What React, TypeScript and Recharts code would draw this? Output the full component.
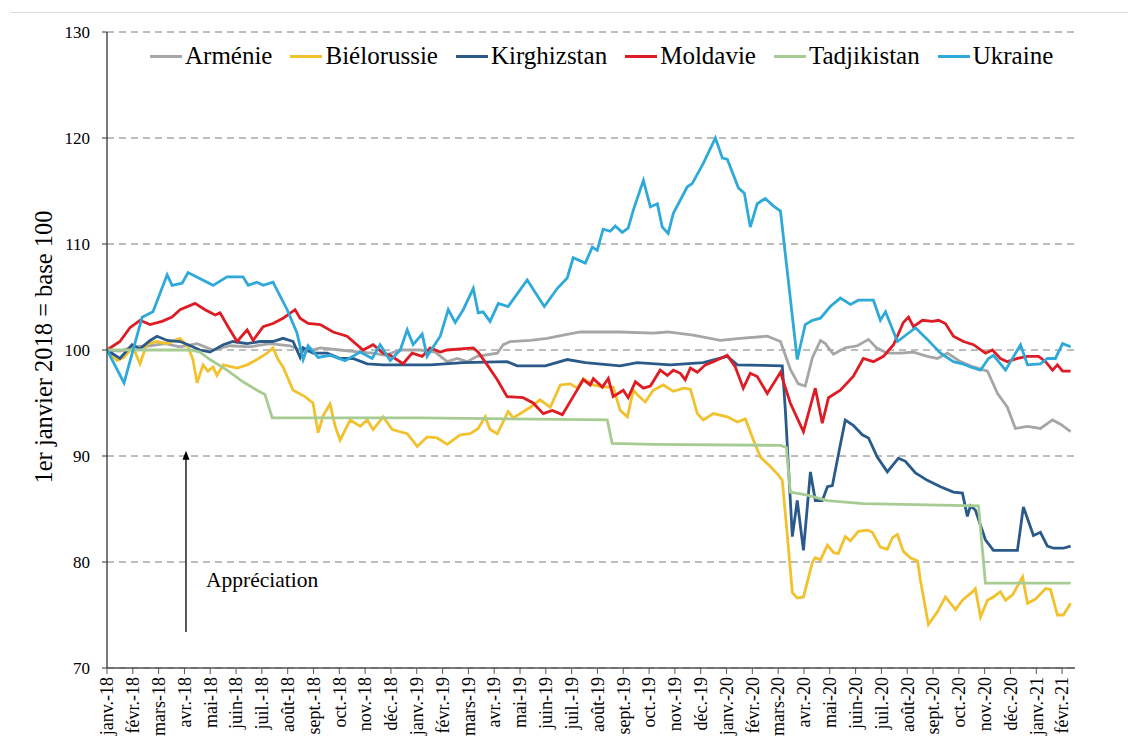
import React from "react";
import {
  LineChart,
  Line,
  XAxis,
  YAxis,
  CartesianGrid,
  ReferenceLine,
  ReferenceDot,
} from "recharts";

const SERIF = '"Liberation Serif", "Times New Roman", serif';

// month labels, one tick per month (t = 0 is janv.-18)
const MONTHS = [
  "janv.-18", "févr.-18", "mars-18", "avr.-18", "mai-18", "juin-18", "juil.-18", "août-18",
  "sept.-18", "oct.-18", "nov.-18", "déc.-18",
  "janv.-19", "févr.-19", "mars-19", "avr.-19", "mai-19", "juin-19", "juil.-19", "août-19",
  "sept.-19", "oct.-19", "nov.-19", "déc.-19",
  "janv.-20", "févr.-20", "mars-20", "avr.-20", "mai-20", "juin-20", "juil.-20", "août-20",
  "sept.-20", "oct.-20", "nov.-20", "déc.-20",
  "janv.-21", "févr.-21",
];
const Y_TICKS = [70, 80, 90, 100, 110, 120, 130];

// [month position, index value]
const armenie: [number, number][] = [
  [0, 100], [0.5, 99.9], [1, 100.3], [1.67, 100.4], [2.25, 100.6], [2.83, 100.3], [3.49, 100.6],
  [4.11, 100], [4.77, 100.4], [5.54, 100.3], [6.32, 100.6], [7.09, 100.4], [7.67, 99.8], [8.26, 100.2],
  [9.03, 100], [9.81, 99.8], [10.31, 99.7], [10.78, 99.5], [11.36, 100], [12.13, 100], [12.71, 99.8],
  [13.18, 98.9], [13.57, 99.2], [13.95, 98.9], [14.34, 99.4], [15.12, 99.7], [15.35, 100.5], [15.62, 100.8],
  [16.4, 100.9], [17.05, 101.1], [17.67, 101.4], [18.33, 101.7], [19.88, 101.7], [21.16, 101.6], [21.71, 101.7],
  [22.71, 101.4], [23.76, 100.9], [24.53, 101.1], [25.58, 101.3], [26.09, 100.8], [26.47, 98.2], [26.78, 96.8],
  [27.05, 96.6], [27.33, 99.3], [27.64, 100.9], [27.83, 100.6], [28.14, 99.6], [28.6, 100.2], [29.07, 100.4],
  [29.5, 101], [29.81, 100.2], [30.23, 99.7], [30.74, 99.7], [31.24, 99.8], [31.78, 99.4], [32.17, 99.2],
  [32.56, 99.7], [33.06, 98.9], [33.57, 98.4], [34.11, 98], [34.5, 95.9], [34.88, 94.6], [35.19, 92.6],
  [35.66, 92.8], [36.16, 92.6], [36.63, 93.4], [36.94, 93], [37.33, 92.3],
];

const bielorussie: [number, number][] = [
  [0, 100], [0.39, 99], [0.66, 99.3], [1, 100.3], [1.28, 98.7], [1.55, 100.6], [1.94, 100.8], [2.33, 100.6],
  [2.83, 101.1], [3.14, 100.3], [3.33, 99.1], [3.49, 96.9], [3.72, 98.6], [3.91, 98], [4.11, 98.4], [4.26, 97.6],
  [4.5, 98.6], [5.04, 98.3], [5.43, 98.6], [5.81, 99.1], [6.2, 99.7], [6.43, 100.2], [6.63, 99.1], [6.82, 98.4],
  [7.21, 96.2], [7.67, 95.6], [7.98, 95], [8.18, 92.2], [8.37, 93.8], [8.64, 94.9], [8.84, 92.8], [9.03, 91.5],
  [9.42, 93.4], [9.81, 92.8], [10.08, 93.4], [10.31, 92.5], [10.7, 93.7], [11.05, 92.5], [11.63, 92.1],
  [12.02, 90.9], [12.4, 91.8], [12.79, 91.7], [13.18, 91.1], [13.68, 92], [14.07, 92.1], [14.38, 92.6],
  [14.65, 93.7], [14.84, 92.5], [15.12, 92.1], [15.54, 94.2], [15.74, 93.6], [16.4, 94.6], [16.78, 95.3],
  [17.17, 94.6], [17.56, 96.7], [17.95, 96.8], [18.22, 96.4], [18.45, 97.3], [18.84, 96.7], [19.22, 96.5],
  [19.61, 96.5], [19.88, 94.3], [20.16, 93.7], [20.39, 96.2], [20.58, 95.7], [20.85, 95.1], [21.16, 96.2],
  [21.55, 96.7], [21.94, 96.1], [22.33, 96.4], [22.6, 96.3], [22.87, 94], [23.1, 93.4], [23.49, 94],
  [24.03, 93.7], [24.42, 93.2], [24.73, 93.5], [25.04, 91.5], [25.31, 89.9], [25.7, 89], [26.01, 88.2],
  [26.16, 87.7], [26.36, 82.4], [26.55, 77.1], [26.74, 76.6], [26.98, 76.7], [27.33, 80], [27.44, 80.4],
  [27.64, 80.2], [27.91, 81.6], [28.14, 80.9], [28.33, 80.8], [28.6, 82.4], [28.8, 82], [29.11, 82.9],
  [29.46, 83], [29.65, 82.8], [29.96, 81.4], [30.23, 81.2], [30.43, 82.3], [30.62, 82.6], [30.85, 81],
  [31.12, 80.4], [31.4, 80.1], [31.51, 78.3], [31.82, 74.1], [32.17, 75.3], [32.48, 76.7], [32.87, 75.5],
  [33.14, 76.4], [33.53, 77.2], [33.64, 77.5], [33.84, 74.8], [34.11, 76.4], [34.34, 76.7], [34.61, 77.2],
  [34.81, 76.4], [35.08, 76.9], [35.47, 78.6], [35.66, 76.1], [35.97, 76.5], [36.36, 77.5], [36.55, 77.4],
  [36.82, 75], [37.05, 75], [37.33, 76.1],
];

const kirghizstan: [number, number][] = [
  [0, 100], [0.5, 99.2], [0.97, 100.5], [1.28, 100.1], [1.67, 100.9], [1.94, 101.3], [2.33, 100.9],
  [2.83, 100.8], [3.14, 100.5], [3.6, 100], [3.99, 99.8], [4.5, 100.5], [4.88, 100.8], [5.43, 100.6],
  [5.93, 100.8], [6.43, 100.8], [6.82, 101.1], [7.21, 100.8], [7.48, 99.3], [7.6, 100.2], [7.98, 99.7],
  [8.53, 99.7], [9.03, 99.2], [9.53, 99.2], [10.08, 98.7], [10.7, 98.6], [12.52, 98.6], [13.8, 98.8],
  [15.5, 98.9], [15.89, 98.5], [16.98, 98.5], [17.83, 99.1], [18.53, 98.8], [19.88, 98.5], [20.54, 98.8],
  [21.82, 98.6], [23.1, 98.8], [24.03, 99.4], [24.42, 98.6], [26.16, 98.5], [26.28, 94.3], [26.55, 82.4],
  [26.74, 85.8], [26.98, 81.1], [27.25, 88.5], [27.44, 85.8], [27.71, 85.8], [27.91, 87.1], [28.1, 87.2],
  [28.33, 90.1], [28.6, 93.4], [28.91, 92.9], [29.26, 92], [29.5, 91.7], [29.84, 89.9], [30.23, 88.5],
  [30.66, 89.8], [30.93, 89.5], [31.32, 88.4], [31.78, 87.7], [32.29, 87.1], [32.79, 86.6], [33.14, 86.5],
  [33.33, 84.3], [33.45, 85.3], [33.64, 84.9], [34.03, 82.1], [34.34, 81.1], [35.27, 81.1], [35.5, 85.2],
  [35.89, 82.5], [36.16, 82.8], [36.43, 81.5], [36.67, 81.3], [37.05, 81.3], [37.33, 81.5],
];

const moldavie: [number, number][] = [
  [0, 100], [0.5, 100.8], [0.89, 102.1], [1.28, 102.8], [1.67, 102.4], [2.13, 102.7], [2.52, 103.1],
  [2.83, 103.8], [3.41, 104.4], [3.8, 103.8], [4.19, 103.3], [4.38, 103.5], [4.69, 102.2], [5.04, 100.8],
  [5.43, 101.9], [5.66, 100.9], [6.05, 102.2], [6.43, 102.5], [6.82, 103], [7.29, 103.8], [7.48, 103],
  [7.79, 102.5], [8.26, 102.4], [8.76, 101.7], [9.3, 101.3], [9.92, 100], [10.31, 100.5], [10.7, 99.7],
  [10.97, 99.5], [11.47, 98.7], [11.82, 99.7], [12.21, 99.4], [12.52, 100.2], [12.91, 99.8], [13.18, 100],
  [14.19, 100.2], [14.38, 99.8], [14.73, 98.6], [15.12, 97.2], [15.5, 95.6], [16.12, 95.5], [16.51, 95],
  [16.9, 94], [17.25, 94.3], [17.64, 93.9], [18.06, 95.6], [18.45, 97.2], [18.72, 96.7], [18.84, 97.3],
  [19.19, 96.5], [19.42, 97.3], [19.61, 95.6], [20, 96.2], [20.19, 95.5], [20.47, 97], [20.78, 96.4],
  [21.05, 96.6], [21.43, 98.1], [21.71, 97.6], [21.94, 98.1], [22.21, 97.8], [22.4, 97.2], [22.6, 98.3],
  [22.87, 97.9], [23.18, 98.6], [23.49, 98.9], [24.03, 99.5], [24.34, 98.4], [24.65, 96.4], [24.92, 97.8],
  [25.19, 97.5], [25.58, 95.9], [26.09, 97.9], [26.47, 95], [26.98, 92.3], [27.44, 96.4], [27.71, 93.1],
  [27.95, 95.5], [28.41, 96.2], [28.91, 97.5], [29.3, 99.2], [29.69, 98.9], [30.08, 99.4], [30.47, 100.5],
  [30.85, 102.6], [31.05, 103.1], [31.24, 102.2], [31.59, 102.8], [31.98, 102.7], [32.21, 102.8],
  [32.48, 102.5], [32.79, 101.3], [33.18, 100.8], [33.57, 100.5], [34.03, 99.7], [34.3, 100], [34.61, 99.2],
  [34.88, 98.9], [35.27, 99.2], [35.66, 99.4], [36.09, 99.4], [36.36, 98.9], [36.63, 98.1], [36.82, 98.6],
  [37.02, 98], [37.33, 98],
];

const tadjikistan: [number, number][] = [
  [0, 100], [3.22, 100], [3.6, 99.8], [3.99, 99.1], [4.65, 98.1], [5.27, 97], [5.81, 96.2], [6.12, 95.8],
  [6.4, 93.6], [12.13, 93.6], [19.38, 93.4], [19.57, 91.2], [21.16, 91.1], [26.09, 91], [26.32, 90.8],
  [26.47, 86.6], [27.13, 86.3], [27.91, 85.8], [29.3, 85.5], [33.76, 85.3], [34.03, 78], [37.33, 78],
];

const ukraine: [number, number][] = [
  [0, 100], [0.66, 96.9], [1.36, 103.1], [1.78, 103.6], [2.33, 107.1], [2.52, 106.1], [2.91, 106.3],
  [3.14, 107.3], [4.11, 106.1], [4.65, 106.9], [5.27, 106.9], [5.47, 106.1], [5.81, 106.4], [6.05, 106.1],
  [6.43, 106.4], [6.98, 103.8], [7.36, 101.6], [7.6, 99.1], [7.79, 100.4], [8.18, 99.3], [8.64, 99.5],
  [9.22, 99], [9.81, 99.8], [10.27, 99.2], [10.58, 100.5], [10.97, 99], [11.36, 100], [11.63, 101.9],
  [11.86, 100.5], [12.21, 101.5], [12.4, 99.4], [12.91, 101.3], [13.22, 103.8], [13.49, 102.6],
  [13.8, 103.8], [14.19, 105.8], [14.38, 103.5], [14.57, 103.6], [14.84, 102.7], [15.16, 104.4],
  [15.54, 104.1], [16.28, 106.6], [16.94, 104.1], [17.44, 105.8], [17.83, 106.8], [18.06, 108.7],
  [18.53, 108.2], [18.8, 109.7], [18.99, 109.4], [19.22, 111.4], [19.5, 111.2], [19.69, 111.7],
  [19.96, 111.1], [20.19, 111.5], [20.39, 113.2], [20.78, 116], [21.05, 113.5], [21.32, 113.8],
  [21.51, 111.6], [21.74, 111], [21.94, 112.9], [22.48, 115.4], [22.67, 115.7], [23.1, 117.6],
  [23.57, 120], [23.84, 118.1], [24.03, 118], [24.46, 115.3], [24.69, 114.8], [24.92, 111.6],
  [25.19, 113.8], [25.5, 114.3], [25.81, 113.6], [26.09, 113.1], [26.74, 99.1], [27.05, 102.4],
  [27.33, 102.8], [27.64, 103], [28.02, 104.1], [28.41, 104.9], [28.8, 104.3], [29.11, 104.7],
  [29.69, 104.7], [29.96, 102.8], [30.16, 103.6], [30.62, 100.8], [31.32, 102.1], [31.78, 101],
  [32.29, 99.7], [32.79, 98.9], [33.14, 98.7], [33.45, 98.4], [33.84, 98.1], [34.15, 99.2], [34.34, 99.5],
  [34.81, 98.1], [35.39, 100.5], [35.66, 98.6], [36.16, 98.7], [36.43, 99.2], [36.74, 99.2],
  [37.02, 100.6], [37.33, 100.3],
];

const SERIES = [
  { name: "Arménie", color: "#a6a6a6", points: armenie },
  { name: "Biélorussie", color: "#f2c12e", points: bielorussie },
  { name: "Kirghizstan", color: "#2a5a8a", points: kirghizstan },
  { name: "Moldavie", color: "#dd1c24", points: moldavie },
  { name: "Tadjikistan", color: "#a6cc94", points: tadjikistan },
  { name: "Ukraine", color: "#2ea9d9", points: ukraine },
];

const toRows = (pts: [number, number][]) => pts.map(([t, v]) => ({ t, v }));

function MonthTick(props: any) {
  const { x, y, payload } = props;
  return (
    <text
      x={x}
      y={y}
      transform={`rotate(-90 ${x} ${y})`}
      textAnchor="end"
      dy="0.35em"
      fontSize={18}
      fontFamily={SERIF}
      fill="#000"
    >
      {MONTHS[payload.value]}
    </text>
  );
}

// axis title, centred on the plot's vertical middle
function YTitle() {
  const cx = 43;
  const cy = 347;
  return (
    <text
      x={cx}
      y={cy}
      transform={`rotate(-90 ${cx} ${cy})`}
      textAnchor="middle"
      dominantBaseline="central"
      fontSize={24.5}
      fontFamily={SERIF}
      fill="#000"
    >
      1er janvier 2018 = base 100
    </text>
  );
}

function Arrow(props: any) {
  const { x1, y1, x2, y2 } = props;
  const top = Math.min(y1, y2);
  const bottom = Math.max(y1, y2);
  return (
    <g>
      <line x1={x1} y1={bottom} x2={x2} y2={top + 6} stroke="#000" strokeWidth={1.3} />
      <polygon points={`${x1},${top} ${x1 - 3.5},${top + 9} ${x1 + 3.5},${top + 9}`} fill="#000" />
    </g>
  );
}

export default function App() {
  return (
    <div
      style={{
        position: "absolute",
        left: 0,
        top: 0,
        width: 1128,
        height: 749,
        background: "#fff",
        fontFamily: SERIF,
      }}
    >
      <div style={{ position: "absolute", left: 10, right: 0, top: 12, height: 1, background: "#dcdcdc" }} />
      <LineChart width={1128} height={749} margin={{ top: 32, right: 53, bottom: 0, left: 0 }}>
        <CartesianGrid vertical={false} stroke="#7a7a7a" strokeDasharray="7 5" />
        <XAxis
          type="number"
          dataKey="t"
          domain={[0, 37.5]}
          ticks={MONTHS.map((_, i) => i)}
          interval={0}
          height={81}
          tickSize={6}
          tickMargin={3}
          axisLine={{ stroke: "#555", strokeWidth: 1.3 }}
          tickLine={{ stroke: "#555" }}
          tick={<MonthTick />}
          allowDataOverflow
        />
        <YAxis
          domain={[70, 130]}
          ticks={Y_TICKS}
          interval={0}
          width={107}
          tickSize={5}
          tickMargin={12}
          axisLine={{ stroke: "#333", strokeWidth: 1.3 }}
          tickLine={{ stroke: "#333" }}
          tick={{ fill: "#000", fontSize: 17, fontFamily: SERIF }}
          label={<YTitle />}
          allowDataOverflow
        />
        {SERIES.map((s) => (
          <Line
            key={s.name}
            data={toRows(s.points)}
            dataKey="v"
            name={s.name}
            type="linear"
            stroke={s.color}
            strokeWidth={2.8}
            dot={false}
            isAnimationActive={false}
          />
        ))}
        <ReferenceLine
          segment={[
            { x: 3.06, y: 73.4 },
            { x: 3.06, y: 90.5 },
          ]}
          shape={<Arrow />}
        />
        <ReferenceDot
          x={3.8}
          y={78.4}
          r={1}
          fill="none"
          stroke="none"
          label={{ value: "Appréciation", position: "right", offset: 0, fontSize: 21.5, fontFamily: SERIF, fill: "#000" }}
        />
      </LineChart>
      <div
        style={{
          position: "absolute",
          left: 150,
          top: 42,
          display: "flex",
          alignItems: "center",
          gap: 18,
          fontSize: 25,
          lineHeight: "28px",
          color: "#000",
        }}
      >
        {SERIES.map((s) => (
          <div key={s.name} style={{ display: "flex", alignItems: "center" }}>
            <span style={{ display: "inline-block", width: 32, height: 3, background: s.color, marginRight: 3 }} />
            <span>{s.name}</span>
          </div>
        ))}
      </div>
    </div>
  );
}
